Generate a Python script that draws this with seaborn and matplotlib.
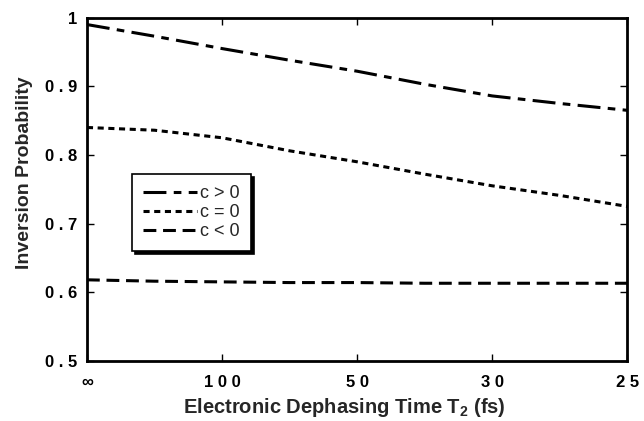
import matplotlib
matplotlib.use("Agg")
import matplotlib.pyplot as plt
import seaborn as sns
import pandas as pd

sns.set_theme(style="ticks")
plt.rcParams['font.family'] = ['Liberation Sans', 'DejaVu Sans']
plt.rcParams['mathtext.default'] = 'regular'

# data (x positions are equally spaced categories of T2)
x_pos = [0, 0.5, 1, 1.5, 2, 2.5, 3, 3.5, 4]
c_pos = [0.990, 0.973, 0.955, 0.938, 0.922, 0.903, 0.886, 0.875, 0.865]
c_zero = [0.840, 0.836, 0.825, 0.806, 0.790, 0.772, 0.755, 0.741, 0.725]
c_neg = [0.618, 0.616, 0.615, 0.614, 0.614, 0.613, 0.613, 0.613, 0.613]
tick_pos = [0, 1, 2, 3, 4]
tick_labels = ["\u221e", "1 0 0", "5 0", "3 0", "2 5"]
y_ticks = [0.5, 0.6, 0.7, 0.8, 0.9, 1.0]
y_labels = ["0 . 5", "0 . 6", "0 . 7", "0 . 8", "0 . 9", "1"]

df = pd.DataFrame({"x": x_pos, "c > 0": c_pos, "c = 0": c_zero, "c < 0": c_neg})

fig = plt.figure(figsize=(6.44, 4.21), dpi=100)
ax = fig.add_axes([0.135, 0.143, 0.839, 0.815])

styles = {"c > 0": (0, (7.5, 2.4, 2.5, 2.4)),
          "c = 0": (0, (2.0, 1.5)),
          "c < 0": (0, (4.2, 2.2))}
for name, ls in styles.items():
    sns.lineplot(data=df, x="x", y=name, ax=ax, color="black", lw=2.2,
                 linestyle=ls, label=name)

ax.set_xlim(0, 4)
ax.set_ylim(0.5, 1.0)
ax.set_xticks(tick_pos)
ax.set_xticklabels(tick_labels)
ax.set_yticks(y_ticks)
ax.set_yticklabels(y_labels)
for lab in ax.get_xticklabels() + ax.get_yticklabels():
    lab.set_fontweight("bold")
    lab.set_fontsize(12)
ax.tick_params(direction="in", length=5, width=1, top=True, right=True,
               colors="black", pad=7)
ax.tick_params(axis="x", pad=10)
for s in ax.spines.values():
    s.set_linewidth(2.0)
    s.set_color("black")

ax.set_xlabel("Electronic Dephasing Time T$_2$ (fs)", fontsize=14.5,
              fontweight="bold", va="center")
ax.xaxis.set_label_coords(0.476, -0.135)
ax.set_ylabel("Inversion Probability", fontsize=14, fontweight="bold",
              va="center")
ax.yaxis.set_label_coords(-0.115, 0.547)

leg = ax.legend(loc="lower left", bbox_to_anchor=(0.083, 0.32),
                frameon=True, fancybox=False, shadow={'color': 'black', 'alpha': 1},
                fontsize=13, handlelength=3.0, handletextpad=0.2,
                borderpad=0.6, labelspacing=0.12, borderaxespad=0)
leg.get_frame().set_edgecolor("black")
leg.get_frame().set_linewidth(1.2)
leg.get_frame().set_alpha(1)

fig.savefig("out.png", dpi=100)
